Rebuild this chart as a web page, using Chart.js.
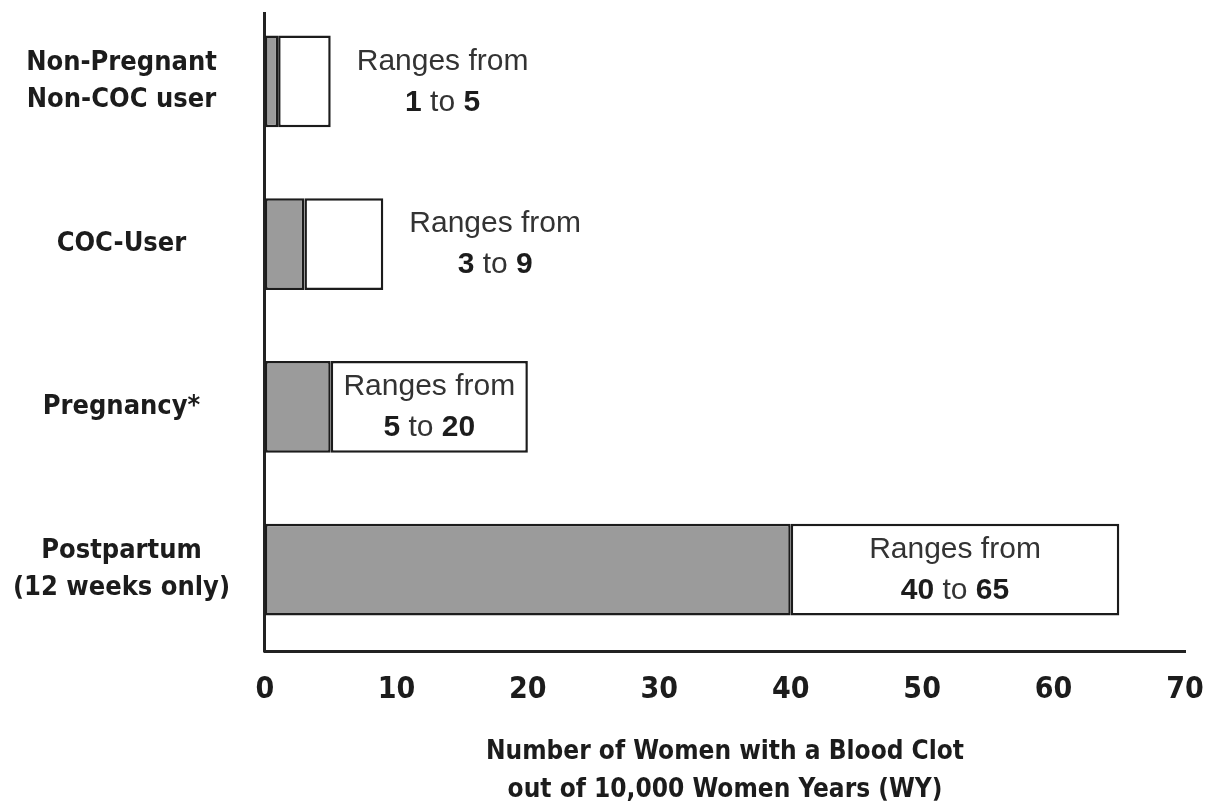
<!DOCTYPE html>
<html>
<head>
<meta charset="utf-8">
<script src="https://cdn.jsdelivr.net/npm/chart.js@4"></script>
<style>
  html, body { margin: 0; padding: 0; background: #ffffff; }
  #wrap { width: 1206px; height: 805px; position: relative; }
</style>
</head>
<body>
<div id="wrap"><canvas id="c"></canvas></div>
<script>
// ---- data ----
const categories = [
  ['Non-Pregnant', 'Non-COC user'],
  'COC-User',
  'Pregnancy*',
  ['Postpartum', '(12 weeks only)']
];
const lowValues  = [1, 3, 5, 40];
const highValues = [5, 9, 20, 65];
const xMin = 0, xMax = 70, xStep = 10;
const axisTitle = ['Number of Women with a Blood Clot', 'out of 10,000 Women Years (WY)'];
const rangeText = 'Ranges from';
const rangeJoin = ' to ';

// ---- styles ----
const CONDENSED = '"Liberation Sans Narrow", "DejaVu Sans Condensed", "Arial Narrow", sans-serif';
const REGULAR = '"Liberation Sans", Arial, sans-serif';
const INK = '#1c1c1c';
const GRAY = '#9b9b9b';

const spanValues = highValues.map((h, i) => h - lowValues[i]);

// vertical axis line (starts a little below the top, as in the reference)
const yAxisLine = {
  id: 'yAxisLine',
  beforeDatasetsDraw(chart) {
    const ctx = chart.ctx, a = chart.chartArea;
    ctx.save();
    ctx.strokeStyle = '#222222';
    ctx.lineWidth = 3;
    ctx.beginPath();
    ctx.moveTo(a.left - 0.5, a.top + 12);
    ctx.lineTo(a.left - 0.5, a.bottom + 1.5);
    ctx.stroke();
    ctx.restore();
  }
};

const rangeLabels = {
  id: 'rangeLabels',
  afterDatasetsDraw(chart) {
    const ctx = chart.ctx;
    const xs = chart.scales.x, ys = chart.scales.y;
    const normalFont = '30px ' + REGULAR;
    const boldFont = 'bold 30px ' + REGULAR;
    ctx.save();
    ctx.textBaseline = 'middle';
    categories.forEach((c, i) => {
      const yc = ys.getPixelForValue(i);
      const xl = xs.getPixelForValue(lowValues[i]);
      const xh = xs.getPixelForValue(highValues[i]);
      ctx.font = normalFont;
      const w1 = ctx.measureText(rangeText).width;
      let cx;
      if (xh - xl > w1 + 14) cx = (xl + xh) / 2;
      else cx = xh + 26 + w1 / 2;
      ctx.fillStyle = '#333333';
      ctx.textAlign = 'center';
      ctx.fillText(rangeText, cx, yc - 20);
      const a = String(lowValues[i]), b = String(highValues[i]);
      ctx.font = boldFont; const wa = ctx.measureText(a).width; const wb = ctx.measureText(b).width;
      ctx.font = normalFont; const wt = ctx.measureText(rangeJoin).width;
      let x = cx - (wa + wt + wb) / 2;
      ctx.textAlign = 'left';
      ctx.font = boldFont; ctx.fillStyle = '#1c1c1c'; ctx.fillText(a, x, yc + 21); x += wa;
      ctx.font = normalFont; ctx.fillStyle = '#333333'; ctx.fillText(rangeJoin, x, yc + 21); x += wt;
      ctx.font = boldFont; ctx.fillStyle = '#1c1c1c'; ctx.fillText(b, x, yc + 21);
    });
    ctx.restore();
  }
};

new Chart(document.getElementById('c'), {
  type: 'bar',
  data: {
    labels: categories,
    datasets: [
      {
        label: 'Lower bound',
        data: lowValues,
        backgroundColor: GRAY,
        borderColor: INK,
        borderWidth: 2.5,
        borderSkipped: false
      },
      {
        label: 'Range',
        data: spanValues,
        backgroundColor: '#ffffff',
        borderColor: INK,
        borderWidth: 2.5,
        borderSkipped: false
      }
    ]
  },
  options: {
    indexAxis: 'y',
    responsive: true,
    maintainAspectRatio: false,
    animation: false,
    devicePixelRatio: 1,
    layout: { padding: { top: 0, right: 21, bottom: 0, left: 0 } },
    datasets: { bar: { barPercentage: 0.565, categoryPercentage: 1.0 } },
    plugins: {
      legend: { display: false },
      tooltip: { enabled: false },
      title: { display: false }
    },
    scales: {
      x: {
        type: 'linear',
        stacked: true,
        min: xMin, max: xMax,
        grid: { display: false, drawTicks: false },
        border: { display: true, color: '#222222', width: 3 },
        ticks: {
          stepSize: xStep,
          color: INK,
          padding: 21,
          font: { family: CONDENSED, size: 30, weight: 'bold' }
        },
        title: {
          display: true,
          text: axisTitle,
          color: INK,
          font: { family: CONDENSED, size: 26, weight: 'bold', lineHeight: 1.46 },
          padding: { top: 0, bottom: -4 }
        },
        afterFit(s) { s.height = 154; s.paddingLeft = 0; s.paddingRight = 0; }
      },
      y: {
        stacked: true,
        grid: { display: false, drawTicks: false },
        border: { display: false },
        ticks: {
          color: INK,
          crossAlign: 'center',
          padding: 35,
          font: { family: CONDENSED, size: 27, weight: 'bold', lineHeight: 1.37 }
        },
        afterFit(s) { s.width = 265; s.paddingTop = 0; s.paddingBottom = 0; }
      }
    }
  },
  plugins: [yAxisLine, rangeLabels]
});
</script>
</body>
</html>
